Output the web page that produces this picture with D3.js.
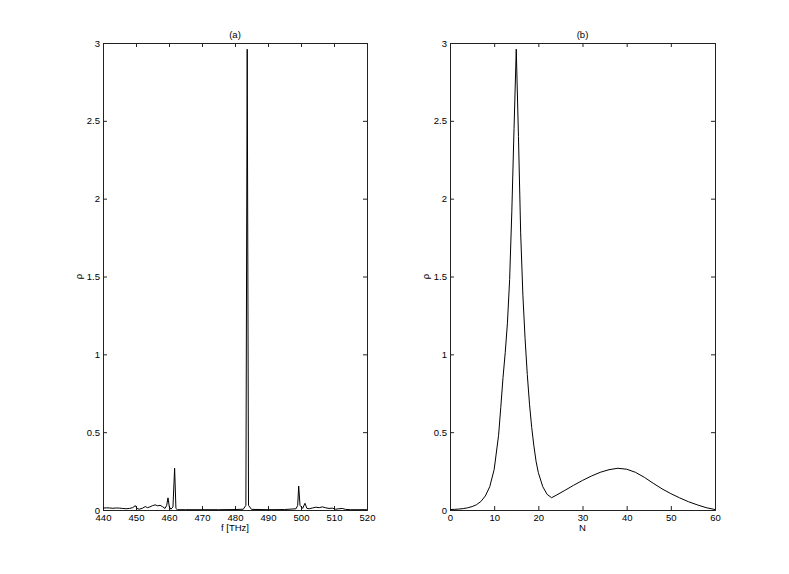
<!DOCTYPE html>
<head>
<meta charset="utf-8">
<title>rho spectra</title>
<script type="text/javascript" src="https://d3js.org/d3.v7.min.js"></script>
<style>
body { margin: 0; background: #fff; }
text { font-family: "Liberation Sans", Arial, sans-serif; font-size: 9.5px; fill: #000; }
</style>
</head>
<body>
<div id="container"></div>
<script>
//*******************
// data
//*******************
// panel (a): rho against frequency
const freqTHz = [440, 441, 442, 443, 444, 445, 446, 447, 448, 449, 449.8, 450.3, 451, 452, 452.8,
  453.5, 454.2, 455, 455.8, 456.6, 457.3, 458, 458.8, 459.3, 459.7, 460.1, 460.6, 461.2, 461.7,
  462.1, 462.5, 465, 470, 475, 480, 482.5, 483.3, 483.7, 484.1, 485, 490, 495, 498.5, 499.0,
  499.3, 499.7, 500.1, 500.5, 501.2, 501.8, 502.5, 503.5, 504.5, 505.5, 506.5, 507.5, 508.5,
  509.5, 510.5, 511.5, 512.5, 513.5, 515, 517, 520];
const rhoFreq = [0.012, 0.014, 0.013, 0.011, 0.013, 0.012, 0.010, 0.008, 0.010, 0.015, 0.028, 0.010,
  0.005, 0.012, 0.022, 0.015, 0.020, 0.028, 0.033, 0.027, 0.030, 0.022, 0.010, 0.030, 0.078,
  0.020, 0.005, 0.020, 0.268, 0.010, 0.002, 0.002, 0.002, 0.002, 0.003, 0.005, 0.030, 2.96,
  0.030, 0.004, 0.002, 0.003, 0.008, 0.030, 0.154, 0.030, 0.020, 0.010, 0.043, 0.010, 0.008,
  0.013, 0.018, 0.015, 0.020, 0.014, 0.010, 0.012, 0.005, 0.008, 0.010, 0.004, 0.002, 0.002, 0.002];

// panel (b): rho against N
const nVals = [0, 1, 2, 3, 4, 5, 6, 7, 8, 9, 10, 11, 11.5, 12, 12.5, 13, 13.5, 14, 14.5, 15,
  15.5, 16, 16.5, 17, 17.5, 18, 18.5, 19, 19.5, 20, 21, 22, 23, 24, 26, 28, 30, 32, 34, 36,
  38, 40, 42, 44, 46, 48, 50, 52, 54, 56, 58, 60];
const rhoN = [0.003, 0.004, 0.006, 0.009, 0.014, 0.022, 0.034, 0.055, 0.09, 0.15, 0.26, 0.48,
  0.66, 0.85, 1.01, 1.2, 1.48, 1.92, 2.45, 2.96, 2.4, 1.78, 1.38, 1.1, 0.87, 0.68, 0.53, 0.41,
  0.31, 0.24, 0.15, 0.10, 0.079, 0.094, 0.126, 0.159, 0.19, 0.218, 0.242, 0.259, 0.268, 0.262,
  0.242, 0.21, 0.172, 0.136, 0.105, 0.078, 0.053, 0.033, 0.015, 0.003];

const rhoTicks = [0, 0.5, 1, 1.5, 2, 2.5, 3];
const freqTicks = [440, 450, 460, 470, 480, 490, 500, 510, 520];
const nTicks = [0, 10, 20, 30, 40, 50, 60];

//*******************
// setup svg
//*******************
const width = 789;
const height = 574;
const plotTop = 43;
const plotBottom = 510;
const tickLen = 4;

const svg = d3.select("div#container").append("svg")
    .attr("width", width)
    .attr("height", height);

function panel(left, right, xDomain, xTicks, xs, ys, title, xLabel) {
  const x = d3.scaleLinear().domain(xDomain).range([left, right]);
  const y = d3.scaleLinear().domain([0, 3]).range([plotBottom, plotTop]);
  const g = svg.append("g");

  // axes, ticks pointing inward, mirrored on top and right
  g.append("g")
    .attr("transform", "translate(0," + plotBottom + ")")
    .call(d3.axisBottom(x).tickValues(xTicks).tickSize(-tickLen).tickPadding(4).tickFormat(d3.format("d")));
  g.append("g")
    .attr("transform", "translate(0," + plotTop + ")")
    .call(d3.axisTop(x).tickValues(xTicks).tickSize(-tickLen).tickFormat(""));
  g.append("g")
    .attr("transform", "translate(" + left + ",0)")
    .call(d3.axisLeft(y).tickValues(rhoTicks).tickSize(-tickLen).tickPadding(3).tickFormat(d3.format("")));
  g.append("g")
    .attr("transform", "translate(" + right + ",0)")
    .call(d3.axisRight(y).tickValues(rhoTicks).tickSize(-tickLen).tickFormat(""));
  g.selectAll(".domain").attr("stroke", "#222");
  g.selectAll(".tick line").attr("stroke", "#222");
  g.selectAll(".tick text").style("font-size", "9.5px").attr("fill", "#000");

  // the curve
  const line = d3.line()
    .x(function(d, i) { return x(xs[i]); })
    .y(function(d) { return y(d); });
  g.append("path")
    .attr("d", line(ys))
    .attr("fill", "none")
    .attr("stroke", "#000")
    .attr("stroke-width", 1);

  // labels
  g.append("text")
    .attr("x", (left + right) / 2)
    .attr("y", 38)
    .attr("text-anchor", "middle")
    .text(title);
  g.append("text")
    .attr("x", (left + right) / 2)
    .attr("y", 531)
    .attr("text-anchor", "middle")
    .text(xLabel);
  g.append("text")
    .attr("transform", "translate(" + (left - 21) + "," + ((plotTop + plotBottom) / 2) + ") rotate(-90)")
    .attr("text-anchor", "middle")
    .text("ρ");
}

panel(103, 367, [440, 520], freqTicks, freqTHz, rhoFreq, "(a)", "f [THz]");
panel(450, 715, [0, 60], nTicks, nVals, rhoN, "(b)", "N");
</script>
</body>
